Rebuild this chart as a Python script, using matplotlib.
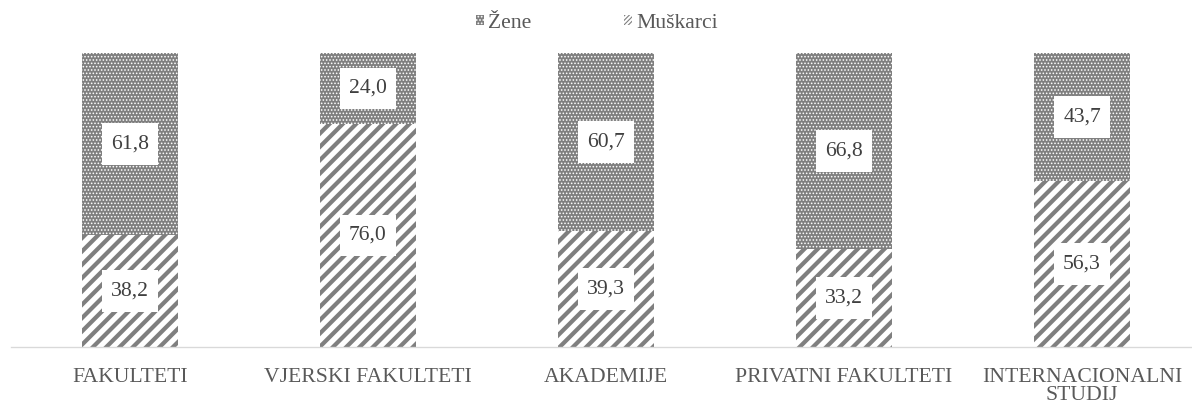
import matplotlib
matplotlib.use("Agg")
import matplotlib.pyplot as plt
from matplotlib.patches import Patch
from matplotlib.path import Path
import numpy as np

categories = ["FAKULTETI", "VJERSKI FAKULTETI", "AKADEMIJE", "PRIVATNI FAKULTETI", "INTERNACIONALNI\nSTUDIJ"]
muskarci = [38.2, 76.0, 39.3, 33.2, 56.3]
zene = [61.8, 24.0, 60.7, 66.8, 43.7]
series_names = ["Žene", "Muškarci"]

plt.rcParams["font.family"] = ["Liberation Serif", "DejaVu Serif"]
text_color = "#595959"
gray = "#7f7f7f"
FS = 19.5

W, H, DPI = 1192, 405, 80
fig = plt.figure(figsize=(W / DPI, H / DPI), dpi=DPI)
ax = fig.add_axes([11 / W, 58 / H, 1190 / W, (347 - 53) / H])

x = np.arange(len(categories))
width = 0.40

with plt.rc_context({"hatch.linewidth": 3.8}):
    bars_m = ax.bar(x, muskarci, width, color="white", edgecolor=gray,
                    hatch="//", linewidth=0)
with plt.rc_context({"hatch.linewidth": 0.9}):
    bars_z = ax.bar(x, zene, width, bottom=muskarci, color=gray,
                    edgecolor="white", hatch="....", linewidth=0)


def label_box(x0, y0, w, h, mutation_size):
    """Rectangle with separate horizontal and vertical padding."""
    px = 0.40 * mutation_size
    py = 0.52 * mutation_size
    x0, y0, x1, y1 = x0 - px, y0 - py, x0 + w + px, y0 + h + py
    return Path([(x0, y0), (x1, y0), (x1, y1), (x0, y1), (x0, y0)],
                closed=True)


box = dict(boxstyle=label_box, facecolor="white", edgecolor="none")
for xi, m, z in zip(x, muskarci, zene):
    ax.text(xi, m / 2, f"{m:.1f}".replace(".", ","), ha="center", va="center",
            fontsize=FS, color="#404040", bbox=box)
    ax.text(xi, m + z / 2, f"{z:.1f}".replace(".", ","), ha="center", va="center",
            fontsize=FS, color="#404040", bbox=box)

ax.set_xlim(-0.5, len(categories) - 0.5)
ax.set_ylim(0, 100)
ax.set_xticks(x)
ax.set_xticklabels(categories, fontsize=FS, color=text_color, linespacing=0.95)
ax.tick_params(axis="x", length=0, pad=19)
ax.set_yticks([])
for s in ["top", "left", "right"]:
    ax.spines[s].set_visible(False)
ax.spines["bottom"].set_color("#d9d9d9")
ax.spines["bottom"].set_linewidth(1.2)

with plt.rc_context({"hatch.linewidth": 0.8}):
    h_z = Patch(facecolor=gray, edgecolor="white", hatch="....", linewidth=0)
with plt.rc_context({"hatch.linewidth": 1.6}):
    h_m = Patch(facecolor="white", edgecolor=gray, hatch="//////", linewidth=0)

fig.legend([h_z, h_m], series_names, loc="center", bbox_to_anchor=(597 / W, 1 - 23 / H),
           ncol=2, frameon=False, fontsize=FS, labelcolor=text_color,
           handlelength=0.36, handleheight=0.36, handletextpad=0.2, columnspacing=4.3)

fig.savefig("out.png", dpi=DPI)
